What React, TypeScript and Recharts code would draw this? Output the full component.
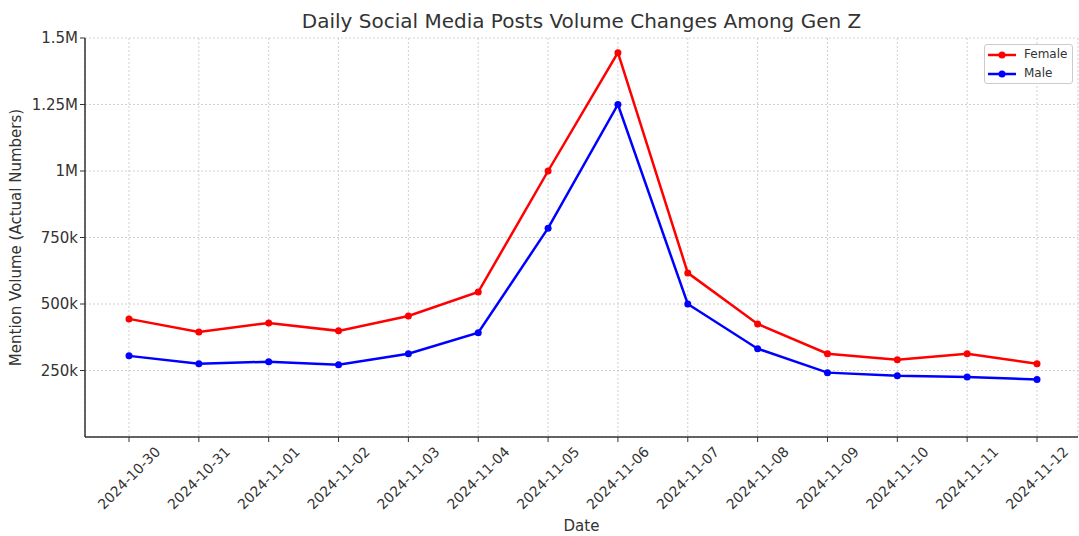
import React from 'react';
import { LineChart, Line, XAxis, YAxis, CartesianGrid, Label } from 'recharts';

const dates = [
  '2024-10-30', '2024-10-31', '2024-11-01', '2024-11-02', '2024-11-03', '2024-11-04', '2024-11-05',
  '2024-11-06', '2024-11-07', '2024-11-08', '2024-11-09', '2024-11-10', '2024-11-11', '2024-11-12',
];
const female = [444000, 395000, 429000, 399000, 455000, 545000, 1000000, 1445000, 617000, 425000, 313000, 290000, 313000, 275000];
const male = [305000, 275000, 283000, 272000, 313000, 392000, 785000, 1250000, 500000, 332000, 242000, 230000, 226000, 216000];
const yTicks = [250000, 500000, 750000, 1000000, 1250000, 1500000];
const yTickLabels = ['250k', '500k', '750k', '1M', '1.25M', '1.5M'];

const series = [
  { key: 'Female', color: '#ff0000' },
  { key: 'Male', color: '#0000ff' },
];

const data = dates.map((d, i) => ({ date: d, Female: female[i], Male: male[i] }));

const font = 'DejaVu Sans, sans-serif';

// matplotlib-style rotated label: centred on the tick, top just under the axis
const DateTick = (props: any) => {
  const { x, y, payload } = props;
  const cy = y + 34;
  return (
    <text
      x={x}
      y={cy}
      dy="0.35em"
      transform={`rotate(-45, ${x}, ${cy})`}
      textAnchor="middle"
      fontSize={14}
      fill="#333"
      fontFamily={font}
    >
      {payload.value}
    </text>
  );
};

const LegendBox = () => (
  <div
    style={{
      position: 'absolute',
      left: 984,
      top: 44,
      width: 89,
      height: 40,
      boxSizing: 'border-box',
      border: '1px solid #ccc',
      borderRadius: 3,
      background: '#fff',
      padding: '0 0 0 3px',
      fontFamily: font,
      fontSize: 12,
      color: '#333',
      lineHeight: '19px',
      zIndex: 5,
    }}
  >
    {series.map((s) => (
      <div key={s.key} style={{ display: 'flex', alignItems: 'center' }}>
        <svg width={28} height={10} style={{ marginRight: 8 }}>
          <line x1={0} y1={5} x2={28} y2={5} stroke={s.color} strokeWidth={2.5} />
          <circle cx={14} cy={5} r={3.5} fill={s.color} />
        </svg>
        {s.key}
      </div>
    ))}
  </div>
);

export default function App() {
  return (
    <div style={{ position: 'absolute', left: 0, top: 0, width: 1079, height: 536, background: '#fff' }}>
      <div
        style={{
          position: 'absolute',
          top: 9,
          left: 85,
          width: 993,
          textAlign: 'center',
          fontFamily: font,
          fontSize: 20,
          color: '#333',
        }}
      >
        Daily Social Media Posts Volume Changes Among Gen Z
      </div>
      <LegendBox />
      <LineChart width={1079} height={536} data={data} margin={{ top: 38, right: 1, bottom: 0, left: 0 }}>
        <CartesianGrid stroke="#d0d0d0" strokeDasharray="2 2" />
        <XAxis
          dataKey="date"
          padding={{ left: 44, right: 41 }}
          height={99}
          tick={<DateTick />}
          tickSize={5}
          axisLine={{ stroke: '#333', strokeWidth: 1.5 }}
          tickLine={{ stroke: '#333' }}
          interval={0}
        >
          <Label value="Date" position="insideBottom" offset={5} style={{ fontFamily: font, fontSize: 15, fill: '#333' }} />
        </XAxis>
        <YAxis
          domain={[0, 1500000]}
          ticks={yTicks}
          width={85}
          tickSize={5}
          tickFormatter={(v: number) => yTickLabels[yTicks.indexOf(v)]}
          tick={{ fontFamily: font, fontSize: 15, fill: '#333' }}
          axisLine={{ stroke: '#333', strokeWidth: 1.5 }}
          tickLine={{ stroke: '#333' }}
        >
          <Label
            value="Mention Volume (Actual Numbers)"
            angle={-90}
            position="insideLeft"
            offset={16}
            style={{ textAnchor: 'middle', fontFamily: font, fontSize: 15, fill: '#333' }}
          />
        </YAxis>
        {series.map((s) => (
          <Line
            key={s.key}
            dataKey={s.key}
            stroke={s.color}
            strokeWidth={2.5}
            dot={{ r: 3.5, fill: s.color, stroke: s.color, strokeWidth: 0 }}
            isAnimationActive={false}
          />
        ))}
      </LineChart>
    </div>
  );
}
